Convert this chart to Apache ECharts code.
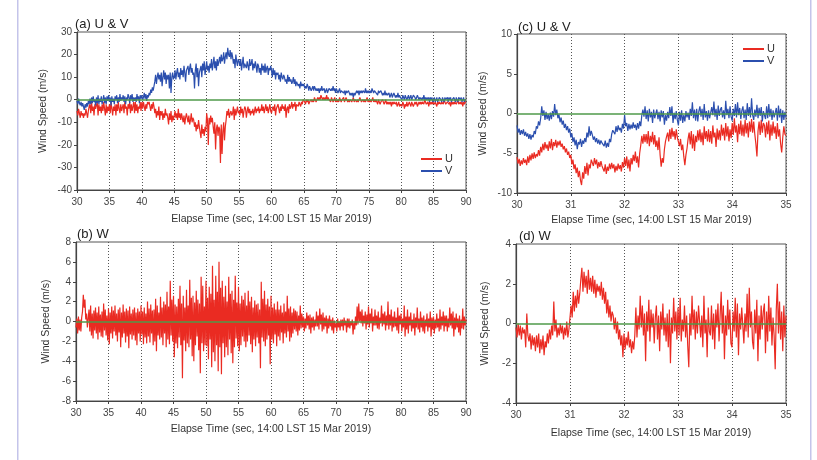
<!DOCTYPE html>
<html>
<head>
<meta charset="utf-8">
<script src="https://cdn.jsdelivr.net/npm/echarts@6/dist/echarts.min.js"></script>
<style>
html,body{margin:0;padding:0;background:#fff;}
#c{width:817px;height:460px;}
</style>
</head>
<body>
<div id="c"></div>
<script>
// ---------- DATA ----------
// Panels (a)/(b): 30–90 s, one sample every 0.125 s (one row = one second)
const START_AB = 30, STEP_AB = 0.125;
const U_A = [
-5,-7,-4,-6,-8,-5,-7,-6,
-8,-6,-7,-4,-6,-8,-5,-3,
-2,-6,-1,-5,-3,-7,-2,-4,
-4,-1,-7,-2,-5,-3,-6,-2,
-5,-1,-4,-7,-2,-6,-3,-5,
-2,-6,-1,-4,-7,-3,-5,-2,
-7,-2,-5,-1,-4,-6,-2,-5,
-5,-2,-6,-1,-4,-3,-7,-2,
-4,-1,-6,-2,-5,-3,-1,-6,
-1,-5,-2,-6,-3,-4,-1,-5,
-1,-4,-1,-3,-5,-2,-4,-1,
-2,-1,-3,-5,-2,-4,-1,-3,
-6,-4,-8,-5,-7,-3,-9,-5,
-7,-5,-9,-6,-8,-4,-7,-6,
-8,-11,-6,-9,-5,-10,-7,-9,
-7,-5,-8,-6,-9,-4,-8,-6,
-9,-6,-8,-10,-7,-11,-8,-6,
-8,-10,-7,-11,-9,-6,-10,-8,
-9,-12,-10,-14,-11,-13,-9,-12,
-12,-17,-11,-15,-13,-16,-12,-14,
-6,-9,-20,-8,-11,-7,-10,-8,
-12,-15,-10,-22,-13,-11,-16,-12,
-13,-28,-11,-24,-14,-10,-18,-12,
-9,-5,-7,-4,-8,-6,-5,-7,
-6,-3,-9,-4,-7,-5,-3,-6,
-5,-7,-3,-6,-4,-8,-5,-3,
-4,-8,-5,-3,-6,-4,-7,-5,
-6,-4,-7,-5,-3,-6,-4,-5,
-3,-6,-4,-5,-2,-5,-3,-6,
-4,-2,-5,-3,-6,-4,-2,-5,
-6,-4,-3,-5,-2,-7,-4,-3,
-2,-4,-6,-3,-5,-2,-4,-3,
-5,-2,-8,-4,-3,-6,-2,-4,
-3,-1,-4,-2,-3,-1,-5,-2,
-2,-3,-1,-2,-3,-1,-2,0,
0,-1,-2,0,-1,0,-2,-1,
-1,0,-1,0,-1,1,0,-1,
0,1,0,1,0,2,1,0,
1,0,1,0,2,0,1,0,
0,-1,1,0,-1,0,1,-1,
0,-1,0,-1,1,0,-1,0,
0,1,-1,0,1,0,-1,0,
-1,0,0,-1,0,1,-1,0,
0,-1,0,-1,0,1,0,-1,
-1,0,-1,0,-1,0,1,-1,
0,-1,0,-1,0,1,-1,0,
-1,0,-1,-2,0,-1,-2,-1,
-1,0,-1,-2,-1,0,-2,-1,
-2,-1,-2,-1,-3,-1,-2,-1,
-1,-2,-1,-3,-2,-1,-3,-2,
-2,-3,-1,-2,-4,-2,-3,-1,
-3,-2,-1,-2,-3,-1,-2,-3,
-3,-1,-2,-1,-3,-2,-1,-2,
-1,-2,-1,-1,-2,0,-1,-2,
-2,-1,-3,-1,-2,-1,-2,-1,
-1,-2,-1,-2,-3,-1,-2,-1,
-1,-2,-1,-1,-2,0,-1,-2,
-2,-1,-1,-2,-1,-3,-1,-2,
-1,-2,-1,-1,-2,-1,0,-2,
-2,-1,-2,-1,-3,-1,-2,-1,
-1
];
const V_A = [
-0.5,-2,0.5,-1.5,-2.5,-1,-3,-1.5,
-3,-4.5,-2,-3.5,-1.5,-3,-0.5,-2,
0.5,-2,1,-1.5,1.5,-1,0,-2.5,
1,-1.5,2,-2,0.5,-1,1.5,-2,
0,2,-1.5,1,-2,1.5,-0.5,2,
-1,1,-2.5,1.5,-1,0.5,-2,1.5,
0,2,-1.5,1,-1,2.5,-0.5,1,
0,2,-1,1.5,-2,1,0,2.5,
1,-1.5,2,0,2.5,-1,1,-0.5,
1,-1,2.5,0,1.5,-1.5,2,0.5,
2,0,1,3,0.5,2.5,-0.5,2,
1,3,2,4.5,3,5.5,4,6,
8,11,7,10,12,9,11,8,
12,6,10,13,9,12,7,11,
9,11,5,12,3,10,12,9,
10,13,9,12,14,10,12,9,
14,11,13,10,15,12,8,13,
13,15,11,14,16,12,14,11,
12,5,13,16,10,14,6,12,
12,15,10,16,13,17,11,14,
17,13,15,12,16,14,18,13,
16,19,14,17,13,18,15,17,
19,16,20,17,18,21,16,19,
21,18,23,20,19,22,18,21,
19,16,18,14,20,17,15,18,
17,15,18,13,16,19,14,16,
16,14,17,15,13,18,15,16,
18,13,16,14,17,15,12,16,
15,12,14,11,16,13,15,12,
16,12,14,15,11,14,13,15,
13,10,14,11,13,9,12,11,
12,9,11,8,12,10,9,11,
10,8,9,7,11,8,10,8,
9,7,8,10,7,9,6,8,
8,6,7,5,8,6,7,6,
7,5,6,5,7,6,4,6,
6,4,5,6,4,6,5,4,
5,4,5,3,5,4,6,4,
4,5,3,4,5,3,4,5,
5,4,5,4,6,4,5,3,
5,4,3,4,5,3,4,4,
4,3,4,2,4,3,3,4,
3,2,3,2,3,1,3,2,
3,4,3,4,2,4,3,4,
3,4,4,3,5,3,4,3,
4,3,4,3,5,4,3,4,
4,3,3,2,4,3,3,4,
3,2,3,2,4,2,3,2,
2,3,1,2,3,1,2,3,
2,1,2,1,3,1,2,1,
1,0,2,1,0,2,1,0,
1,2,0,1,2,0,1,2,
2,1,0,1,2,1,0,1,
1,0,1,0,2,0,1,0,
1,0,1,-1,1,0,1,-1,
0,1,-1,0,1,-1,0,1,
1,0,-1,1,0,-1,1,0,
0,1,-1,1,0,1,-1,0,
0,1,0,-1,1,0,-1,1,
1,0,1,-1,0,1,-1,0,
0
];
const W_B = [
-0.6,0.3,-1.2,0.5,-0.9,0.2,-1.0,0.4,
1.0,2.7,1.4,2.2,0.2,0.8,-0.6,0.3,
1.2,-1.0,1.6,-1.4,0.8,-1.7,1.1,-0.9,
1.4,-1.2,0.9,-1.8,1.5,-1.1,0.7,-1.5,
1.0,-1.6,1.8,-0.9,1.2,-1.4,0.6,-1.9,
1.3,-2.3,0.9,-1.2,1.5,-1.7,1.1,-1.0,
1.6,-1.4,0.8,-2.0,1.2,-1.1,1.4,-2.6,
0.9,-1.6,1.7,-1.2,1.0,-2.1,1.3,-1.5,
1.1,-2.7,1.5,-1.3,0.8,-1.8,1.2,-1.4,
1.4,-1.9,0.9,-2.4,1.3,-1.2,1.0,-2.0,
1.6,-1.3,1.0,-2.3,1.4,-1.6,0.8,-2.2,
2.0,-1.5,1.3,-2.1,1.7,-1.2,1.1,-2.4,
1.2,-2.0,2.3,-3.0,1.6,-1.4,0.9,-1.8,
2.5,-1.6,1.4,-2.4,2.0,-1.2,1.7,-2.6,
3.0,-1.8,1.5,-2.3,4.1,-1.4,2.2,-2.0,
2.6,-3.6,1.7,-2.2,1.5,-2.7,2.3,-1.6,
3.6,-2.4,1.8,-5.7,2.6,-1.9,1.4,-3.0,
3.2,-2.2,1.6,-2.6,4.2,-1.8,2.4,-3.5,
2.6,-4.0,1.9,-2.4,3.1,-1.5,2.2,-2.9,
1.8,-5.2,4.5,-2.2,3.6,-3.0,1.5,-2.4,
4.1,-2.5,2.4,-3.8,3.5,-1.8,2.8,-4.6,
5.6,-3.1,2.2,-4.0,4.6,-2.4,3.0,-5.0,
6.0,-2.6,3.4,-5.3,4.1,-2.2,2.5,-3.6,
3.6,-2.6,2.0,-3.4,4.5,-1.8,2.8,-3.2,
3.1,-4.2,2.2,-2.6,4.6,-1.7,1.9,-2.5,
3.5,-3.0,1.8,-2.4,2.6,-1.5,2.2,-2.0,
2.9,-2.6,1.6,-2.0,3.1,-1.4,2.0,-2.3,
2.5,-3.1,1.4,-1.8,2.1,-2.5,1.7,-1.6,
1.8,-2.2,1.2,-4.7,4.0,-1.6,2.3,-2.0,
3.1,-2.5,1.7,-1.8,2.3,-1.4,1.5,-4.3,
2.6,-1.8,1.4,-2.2,1.8,-1.3,1.2,-2.5,
2.0,-1.5,1.2,-1.9,1.6,-1.1,0.9,-2.2,
1.8,-1.2,1.0,-1.6,2.6,-1.0,1.3,-2.0,
1.5,-1.6,0.9,-1.2,1.3,-0.8,1.1,-1.0,
1.0,-1.4,0.6,-0.9,1.6,-0.7,0.8,-0.6,
0.5,-1.0,0.3,-0.7,0.9,-0.4,0.6,-0.8,
0.7,-1.2,0.4,-0.6,0.5,-0.9,0.2,-0.5,
1.0,-0.5,0.6,-0.8,1.3,-0.3,0.7,-1.0,
0.9,-0.8,0.4,-0.5,0.6,-1.2,0.3,-0.7,
0.6,-0.5,0.2,-0.9,0.4,-1.2,0.1,-0.6,
-0.2,-1.0,0.3,-0.6,0.0,-0.9,0.2,-0.5,
0.2,-0.9,0.4,-0.4,0.1,-1.1,0.3,-0.6,
0.3,-0.7,0.0,-0.4,0.2,-1.3,-0.1,-0.8,
0.5,-0.4,1.5,-0.3,1.8,0.0,1.0,-0.2,
1.2,-0.5,0.6,-0.2,1.0,-0.8,0.7,-0.3,
1.5,-0.6,0.8,-0.2,1.3,-1.0,0.5,-0.4,
1.2,-0.4,0.6,-0.7,1.0,-0.8,0.4,-0.2,
1.6,-0.5,0.8,-0.3,1.0,-0.9,0.6,-0.4,
2.0,-0.8,0.7,-0.4,1.2,-1.0,0.5,-0.6,
1.0,-0.5,0.4,-0.9,1.4,-1.2,0.6,-0.3,
0.8,-1.0,0.3,-0.6,1.6,-1.5,0.5,-0.8,
1.2,-1.2,0.5,-0.4,0.9,-1.0,0.2,-0.7,
0.8,-1.4,0.4,-0.6,1.4,-0.8,0.3,-1.1,
1.0,-0.6,0.4,-1.0,0.6,-1.2,0.2,-0.5,
0.8,-1.0,0.3,-0.6,1.0,-1.5,0.4,-0.8,
0.5,-1.2,0.2,-0.7,0.8,-0.6,0.3,-1.0,
1.2,-0.8,0.5,-0.4,1.0,-1.0,0.6,-0.5,
0.6,-1.0,0.3,-0.6,1.4,-0.4,0.8,-0.7,
1.0,-1.5,0.4,-0.8,0.8,-0.6,0.3,-1.1,
0.6,-1.4,0.2,-0.7,1.3,-0.8,0.5,-0.4,
0.2
];
// Panels (c)/(d): 30–35 s, one sample every 0.02 s (one row = 0.2 s)
const START_CD = 30, STEP_CD = 0.02;
const U_C = [
-5.5,-6.3,-5.7,-6.6,-5.9,-6.4,-5.6,-6.2,-5.8,-6.5,
-5.4,-6.2,-5.2,-5.9,-5.0,-5.7,-4.9,-5.6,-5.1,-5.4,
-4.6,-5.3,-4.2,-4.9,-3.8,-4.6,-3.6,-4.4,-3.9,-4.7,
-3.5,-4.4,-3.2,-4.6,-3.6,-4.1,-3.3,-4.3,-3.5,-4.0,
-3.4,-4.2,-3.8,-4.5,-4.1,-4.9,-4.4,-5.2,-4.8,-5.6,
-5.2,-6.4,-5.8,-7.0,-6.4,-7.5,-6.8,-8.0,-7.2,-8.4,
-9.0,-7.4,-8.2,-6.6,-7.6,-6.2,-7.8,-6.4,-6.9,-5.8,
-5.9,-6.6,-5.6,-6.4,-5.8,-6.9,-6.1,-6.7,-6.0,-6.6,
-6.5,-7.3,-6.4,-7.6,-6.7,-7.2,-6.3,-7.0,-6.2,-6.9,
-6.4,-7.4,-6.6,-7.2,-6.3,-7.0,-6.5,-7.3,-6.1,-6.8,
-5.6,-6.6,-5.4,-6.9,-5.8,-7.3,-5.6,-6.4,-5.2,-6.0,
-4.8,-6.2,-5.4,-6.8,-5.0,-4.0,-2.8,-3.8,-2.6,-3.6,
-2.6,-3.8,-2.2,-4.1,-2.8,-3.6,-2.3,-3.9,-2.7,-4.2,
-3.4,-4.6,-3.0,-5.2,-6.7,-5.6,-6.2,-4.5,-3.5,-2.9,
-2.4,-3.5,-2.0,-3.2,-1.8,-2.9,-2.2,-3.3,-2.0,-3.0,
-2.8,-4.1,-3.2,-4.6,-3.9,-5.4,-6.5,-5.2,-4.4,-3.2,
-2.4,-3.9,-2.2,-4.4,-2.6,-4.7,-2.8,-3.6,-2.1,-3.4,
-2.0,-3.6,-2.4,-4.0,-1.6,-3.2,-2.2,-3.5,-2.0,-3.6,
-2.2,-3.8,-1.5,-3.0,-2.4,-4.2,-1.9,-3.3,-2.1,-3.4,
-1.4,-2.8,-1.8,-3.4,-1.2,-2.9,-1.6,-3.5,-2.0,-3.1,
-1.2,-2.7,-0.6,-2.4,-1.5,-3.6,-1.3,-2.6,-0.9,-2.8,
-1.4,-2.9,-0.8,-2.5,-1.2,-3.0,-1.0,-2.3,-0.7,-2.4,
-1.0,-2.6,-3.8,-5.4,-2.2,-1.0,-2.7,-0.8,-2.4,-1.2,
-1.5,-3.0,-1.1,-2.6,-0.9,-3.4,-1.4,-2.8,-1.0,-2.5,
-1.6,-3.2,-1.2,-2.9,-2.0,-3.8,-4.9,-3.0,-1.6,-2.6,
-2.8
];
const V_C = [
-1.5,-2.4,-1.9,-2.7,-2.1,-2.6,-2.0,-2.8,-2.3,-2.9,
-2.5,-3.2,-2.6,-3.3,-2.7,-3.0,-2.2,-2.6,-1.6,-1.9,
-1.0,-1.5,-0.6,0.9,-0.3,0.4,-0.8,0.2,-0.7,-0.1,
-0.9,0.1,-0.7,0.3,-0.4,1.2,-0.2,0.5,-0.6,-0.1,
-1.1,-0.5,-1.4,-0.9,-1.8,-1.3,-2.1,-1.6,-2.4,-1.9,
-3.0,-2.5,-3.6,-3.0,-4.0,-3.3,-4.5,-3.6,-3.9,-3.2,
-4.2,-3.4,-3.8,-3.1,-3.6,-2.4,-3.0,-1.6,-2.8,-2.2,
-2.7,-3.3,-2.9,-3.6,-3.1,-3.8,-3.3,-3.9,-3.4,-3.7,
-3.6,-4.1,-3.4,-4.3,-3.7,-4.2,-3.2,-3.6,-2.6,-2.1,
-2.0,-2.6,-1.6,-2.3,-1.5,-2.1,-1.8,-2.4,-1.3,-1.9,
-0.2,-1.6,-1.2,-2.2,-1.3,-2.0,-1.4,-1.9,-1.1,-1.8,
-1.4,-2.1,-1.2,-1.9,-1.0,-1.6,-0.2,0.5,-0.4,0.9,
-0.7,0.4,-1.0,0.6,-0.5,0.2,-1.2,0.5,-0.6,0.0,
0.5,-0.7,0.2,-1.0,0.4,-0.5,0.3,-1.4,-0.2,-0.9,
0.2,-0.6,0.8,-0.3,0.9,-1.2,0.1,-0.7,0.3,-0.8,
-1.5,0.2,-0.9,0.4,-1.2,-0.2,-1.0,0.3,-0.5,0.1,
-0.8,0.6,-0.3,1.4,-0.6,0.5,-0.9,0.6,-1.0,0.3,
0.9,-0.4,0.6,-0.8,1.2,-0.5,0.3,-0.9,0.4,-0.6,
-0.7,0.8,-0.2,1.5,-0.4,0.6,-0.8,1.0,-0.3,0.5,
0.8,-0.5,0.4,-0.7,1.6,-0.2,0.6,-0.6,0.9,-0.4,
-0.9,0.6,-0.3,1.2,-0.5,1.4,-0.2,0.7,-0.7,0.4,
0.9,-0.6,0.5,-0.8,1.3,-0.3,0.8,-0.5,1.9,-0.2,
-0.8,0.5,-0.4,1.1,-0.6,0.7,-0.3,0.8,-1.0,0.3,
0.5,-0.7,0.9,-0.6,1.2,-0.4,0.6,-0.8,0.4,-0.5,
-0.3,0.7,-0.9,1.0,-0.5,0.6,-1.2,0.4,-0.8,0.2,
-0.5
];
const W_D = [
-0.2,-0.7,0.0,-0.6,-0.1,-0.8,-0.2,-0.5,-0.3,-1.2,
0.5,-0.6,-0.9,-0.5,-1.3,-0.6,-1.1,-0.7,-1.4,-0.6,
-1.2,-0.5,-1.5,-0.8,-1.3,-0.6,-1.6,-0.9,-1.2,-0.5,
-1.0,-0.3,-0.8,-0.1,-0.6,1.1,-0.4,0.2,-0.7,-0.2,
-0.6,0.0,-0.5,-0.1,-0.8,-0.2,-0.6,0.1,-0.7,-0.3,
-0.2,0.9,0.3,1.6,0.6,1.4,0.8,1.7,1.0,1.5,
2.2,2.8,1.6,2.6,1.8,2.4,1.5,2.7,1.7,2.3,
1.6,2.4,1.5,2.2,1.3,2.0,1.6,1.9,1.4,2.1,
1.2,1.8,1.0,1.6,0.5,1.2,0.3,0.9,0.1,0.6,
0.4,-0.3,0.3,-0.5,0.1,-0.8,-0.3,-1.1,-0.6,-1.7,
-0.5,-1.3,-0.7,-1.1,-0.4,-1.2,-0.8,-1.5,-0.9,-1.3,
-0.6,0.8,-0.7,0.4,-0.3,1.4,-0.2,0.9,-0.6,0.5,
-1.9,0.6,-0.4,1.2,-0.9,0.7,-0.2,0.5,-1.0,0.3,
0.9,-0.8,0.4,-1.4,0.6,-0.3,1.0,-0.6,0.3,-0.9,
0.5,-1.2,0.7,-2.0,0.3,-0.5,1.3,-0.4,0.6,-0.8,
0.8,-0.6,1.3,-0.9,0.2,-0.4,0.9,-0.7,0.4,-1.1,
-2.2,0.5,-0.6,1.4,-0.3,0.7,-0.8,0.6,-0.5,0.9,
1.0,-0.7,0.4,-1.2,1.4,-0.5,0.2,-1.7,0.8,-0.4,
-0.6,0.9,-0.8,0.5,-1.3,0.7,-0.2,1.0,-0.9,0.4,
1.6,-0.5,0.9,-1.8,0.4,-0.6,1.2,-0.3,0.7,-1.0,
-1.2,0.6,-0.4,1.3,-0.7,1.0,-1.6,0.5,-0.3,0.8,
0.8,-1.0,0.5,-0.4,1.5,-0.7,1.8,-0.2,0.6,-0.9,
-1.3,0.7,-0.5,1.2,-1.9,0.4,-0.8,0.9,-0.3,0.6,
1.0,-1.5,0.6,-0.9,1.4,-0.4,0.8,-1.1,0.3,-0.6,
-2.3,0.7,2.0,-0.5,1.1,-0.8,0.6,-1.4,0.9,-0.7,
0.4
];
const TITLES = ['(a) U & V', '(b) W', '(c) U & V', '(d) W'];
const X_NAME = 'Elapse Time (sec, 14:00 LST 15 Mar 2019)';
const Y_NAME = 'Wind Speed (m/s)';

// ---------- CHART ----------
const RED = '#ea2b22', BLUE = '#2b4fae', GREEN = '#4f9a4a';
const pairs = (arr, start, step) => arr.map((v, i) => [+(start + i * step).toFixed(3), v]);
const FONT = 'Liberation Sans, Arial, sans-serif';

const grids = [
  {left: 77, top: 32, width: 389, height: 158},
  {left: 76, top: 242, width: 390, height: 159},
  {left: 517, top: 34, width: 269, height: 159},
  {left: 516, top: 244, width: 270, height: 159}
];
const xr = [[30, 90, 5], [30, 90, 5], [30, 35, 1], [30, 35, 1]];
const yr = [[-40, 30, 10, 28], [-8, 8, 2, 24], [-10, 10, 5, 28], [-4, 4, 2, 25]];
const xgap = [24, 23, 22, 25];

const chart = echarts.init(document.getElementById('c'), null, {renderer: 'canvas'});
const zeroLine = {
  silent: true, symbol: 'none', label: {show: false},
  lineStyle: {color: GREEN, width: 1.5, type: 'solid'},
  data: [{yAxis: 0}]
};
function lineSeries(name, data, color, idx, withZero) {
  const s = {
    name, type: 'line', data, xAxisIndex: idx, yAxisIndex: idx,
    showSymbol: false, symbol: 'none', sampling: null, animation: false,
    lineStyle: {color, width: 1.2}, itemStyle: {color}
  };
  if (withZero) s.markLine = zeroLine;
  return s;
}
const checks = [[U_A, 481], [V_A, 481], [W_B, 481], [U_C, 251], [V_C, 251], [W_D, 251]];
const bad = checks.map((c, i) => c[0].length !== c[1] ? ('#' + i + ':' + c[0].length) : '').filter(Boolean).join(' ');

const option = {
  backgroundColor: '#fff',
  animation: false,
  textStyle: {fontFamily: FONT},
  grid: grids.map(g => Object.assign({show: true, borderColor: '#555', borderWidth: 1, backgroundColor: 'transparent'}, g)),
  title: [
    {text: TITLES[0], left: 75, top: 18},
    {text: TITLES[1], left: 77, top: 228},
    {text: TITLES[2], left: 518, top: 21},
    {text: TITLES[3], left: 519, top: 230}
  ].map(t => Object.assign(t, {padding: 0, textStyle: {fontSize: 13, fontWeight: 'normal', color: '#222', fontFamily: FONT}})),
  legend: [
    {data: ['U', 'V'], left: 421, top: 153, orient: 'vertical'},
    {data: ['U', 'V'], left: 743, top: 43, orient: 'vertical'}
  ].map(l => Object.assign(l, {
    itemWidth: 21, itemHeight: 2, itemGap: 0, padding: 0, icon: 'rect',
    textStyle: {fontSize: 11, color: '#333', lineHeight: 12, padding: [0, 0, 0, -2], fontFamily: FONT}
  })),
  xAxis: xr.map((r, i) => ({
    type: 'value', gridIndex: i, min: r[0], max: r[1], interval: r[2],
    name: X_NAME, nameLocation: 'middle', nameGap: xgap[i],
    nameTextStyle: {fontSize: 10.5, color: '#333', fontFamily: FONT},
    axisLine: {show: true, onZero: false, lineStyle: {color: '#444', width: 1.2}},
    axisTick: {show: true, length: 3, inside: false, lineStyle: {color: '#444'}},
    axisLabel: {fontSize: 10, color: '#444', margin: 7, fontFamily: FONT},
    splitLine: {show: true, lineStyle: {color: '#555', type: [1, 2], width: 1}}
  })),
  yAxis: yr.map((r, i) => ({
    type: 'value', gridIndex: i, min: r[0], max: r[1], interval: r[2],
    name: Y_NAME, nameLocation: 'middle', nameGap: r[3],
    nameTextStyle: {fontSize: 10.5, color: '#333', fontFamily: FONT},
    axisLine: {show: true, onZero: false, lineStyle: {color: '#444', width: 1.2}},
    axisTick: {show: true, length: 3, inside: false, lineStyle: {color: '#444'}},
    axisLabel: {fontSize: 10, color: '#444', margin: 5, fontFamily: FONT},
    splitLine: {show: false}
  })),
  series: [
    lineSeries('U', pairs(U_A, START_AB, STEP_AB), RED, 0, false),
    lineSeries('V', pairs(V_A, START_AB, STEP_AB), BLUE, 0, true),
    lineSeries('W', pairs(W_B, START_AB, STEP_AB), RED, 1, true),
    lineSeries('U', pairs(U_C, START_CD, STEP_CD), RED, 2, false),
    lineSeries('V', pairs(V_C, START_CD, STEP_CD), BLUE, 2, true),
    lineSeries('W', pairs(W_D, START_CD, STEP_CD), RED, 3, true)
  ],
  graphic: [
    {type: 'rect', shape: {x: 17, y: 0, width: 1.5, height: 460}, style: {fill: '#c4c4ea'}, silent: true},
    {type: 'rect', shape: {x: 810, y: 0, width: 1.5, height: 460}, style: {fill: '#c4c4ea'}, silent: true}
  ].concat(bad ? [{type: 'text', left: 300, top: 5, style: {text: 'LEN ' + bad, fill: '#f00', fontSize: 12}}] : [])
};
chart.setOption(option);
</script>
</body>
</html>
